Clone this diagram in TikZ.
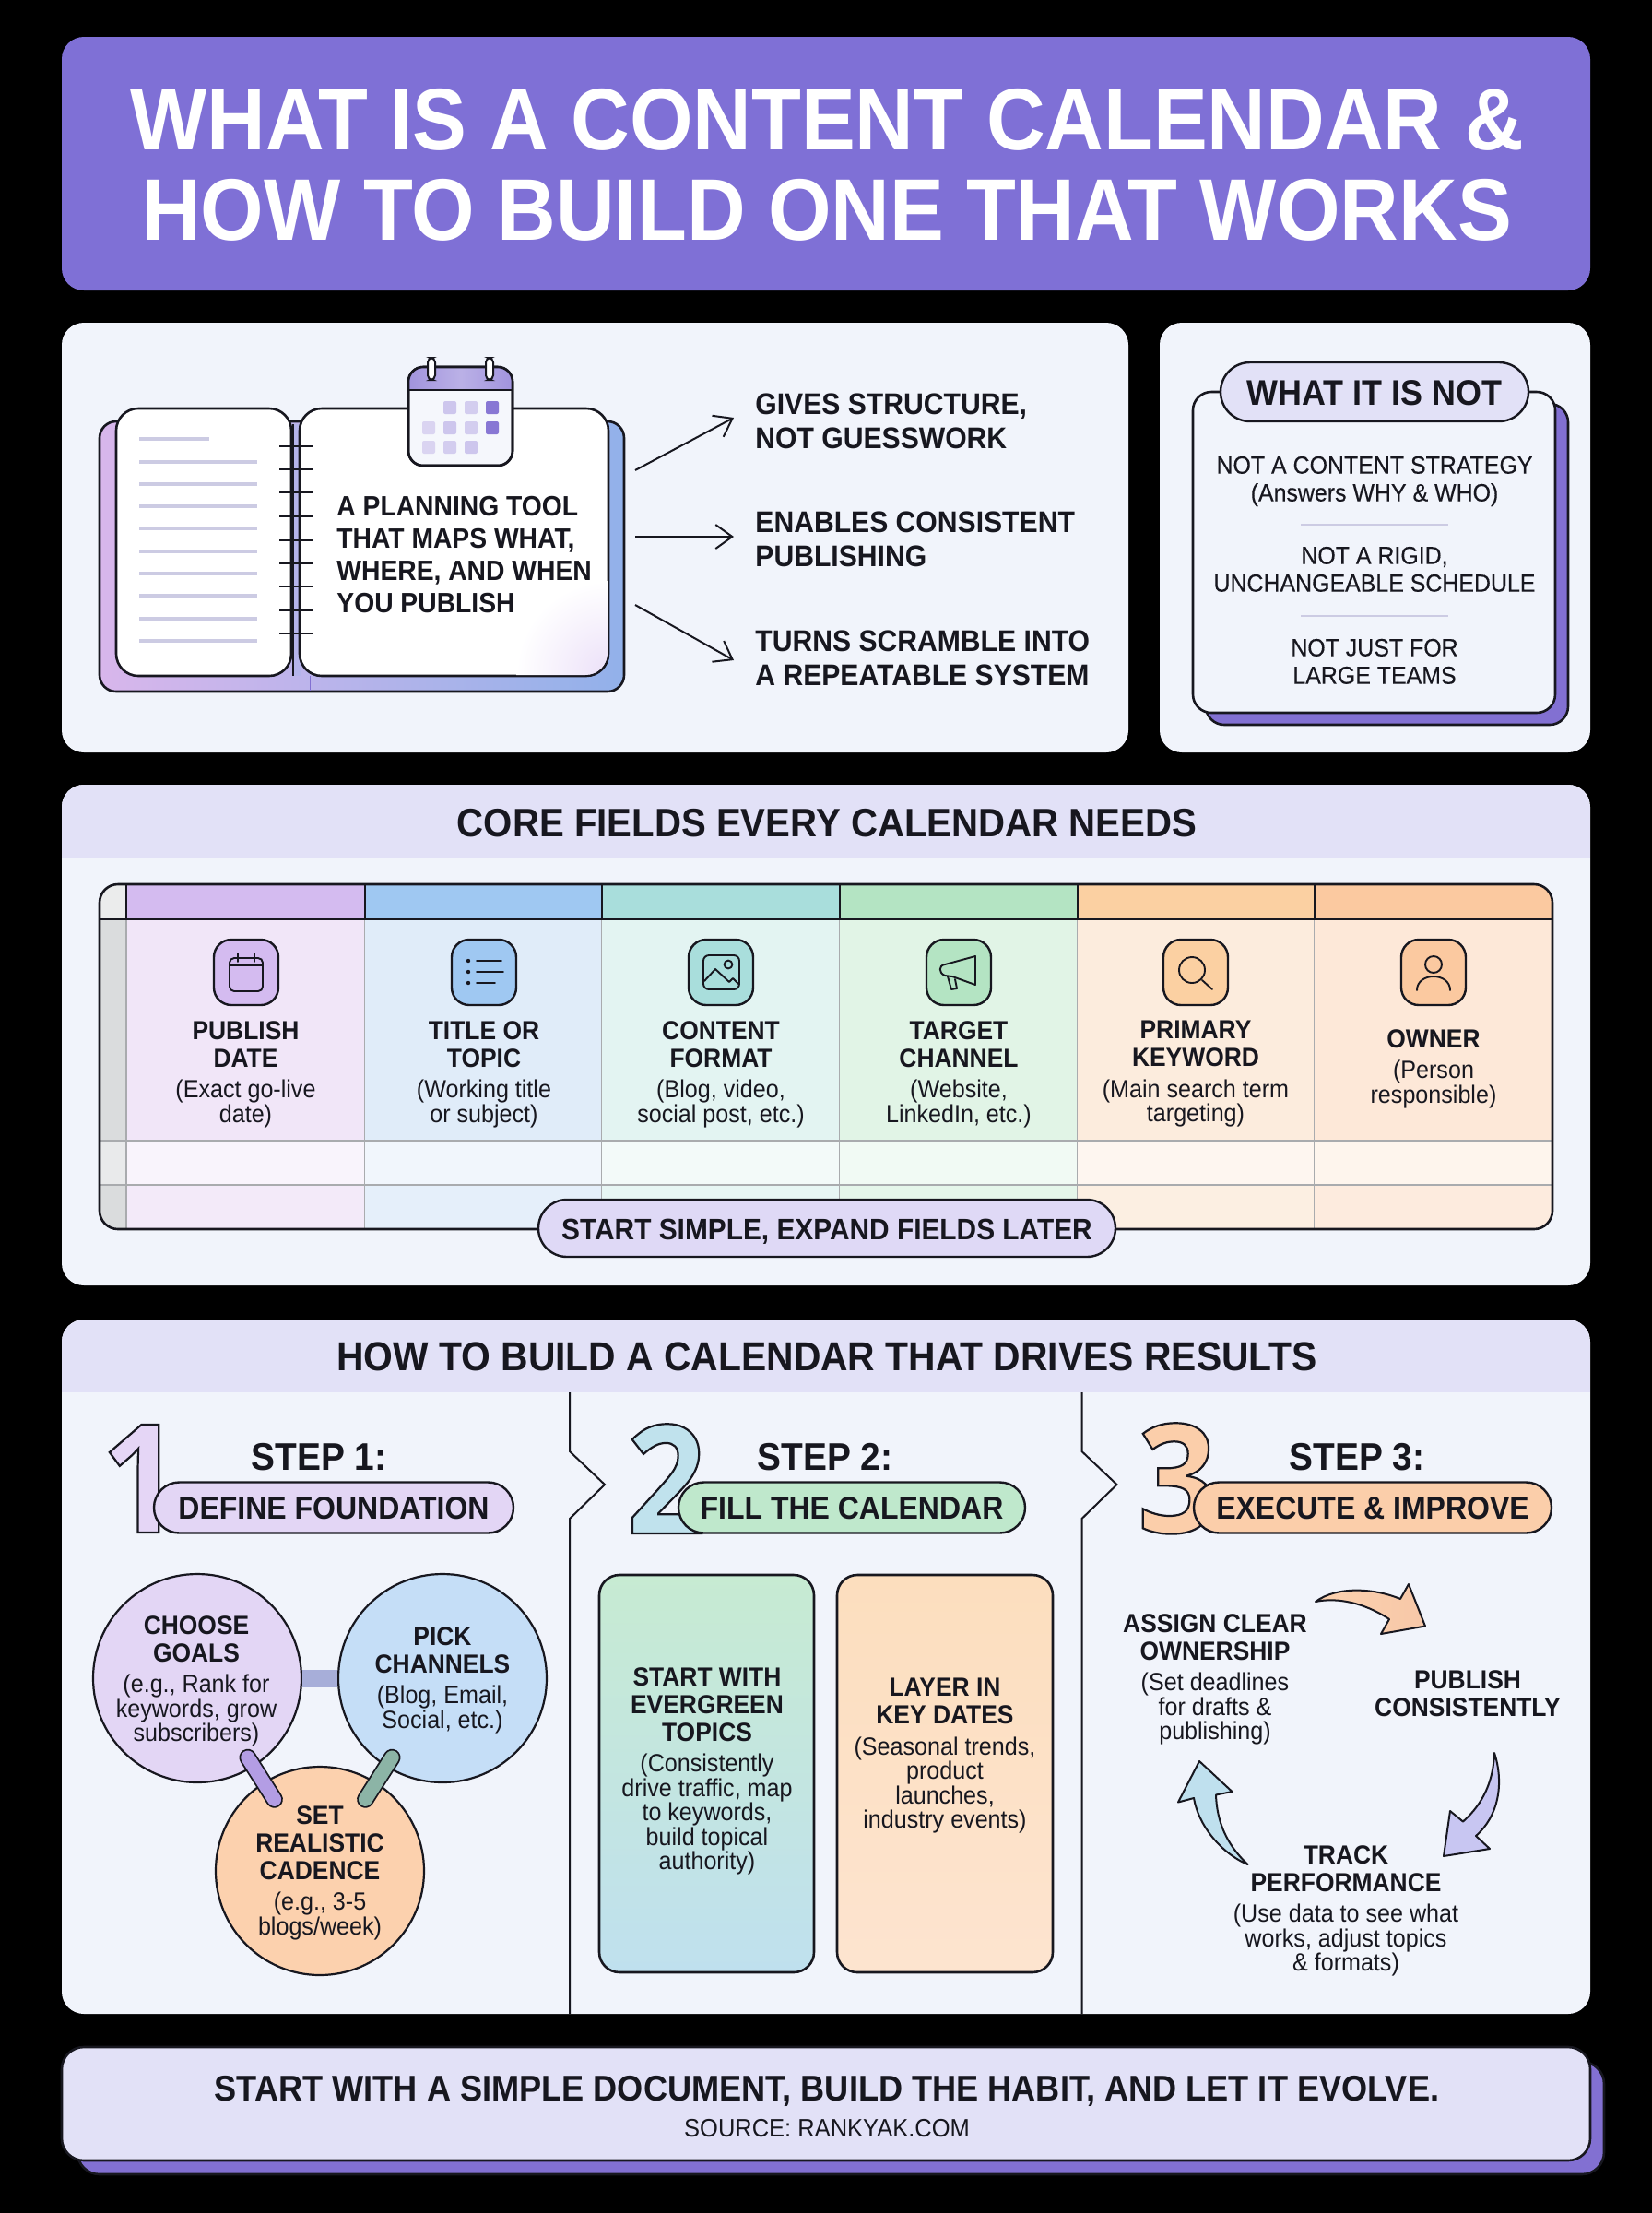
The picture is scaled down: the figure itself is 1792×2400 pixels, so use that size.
\documentclass[tikz,border=0pt]{standalone}
\usepackage{fontspec}
\setmainfont[FakeStretch=0.93]{Liberation Sans}
\newfontfamily\numfont[FakeStretch=0.92]{Open Sans}
\newfontfamily\medfont[FakeStretch=0.93,FakeBold=0.25]{Liberation Sans}
\usetikzlibrary{arrows.meta,shapes.misc,calc}
\definecolor{ink}{HTML}{17171F}
\definecolor{panel}{HTML}{F1F4FB}
\definecolor{strip}{HTML}{E2E1F7}
\definecolor{titlec}{HTML}{7F70D6}
\definecolor{lav}{HTML}{E3D6F5}
\definecolor{deep}{HTML}{8270D2}
\definecolor{hA}{HTML}{D4BBF0}\definecolor{cA}{HTML}{F1E6F8}
\definecolor{hB}{HTML}{9FC8F2}\definecolor{cB}{HTML}{E0ECF9}
\definecolor{hC}{HTML}{A9DEDC}\definecolor{cC}{HTML}{E3F4F2}
\definecolor{hD}{HTML}{B4E4C3}\definecolor{cD}{HTML}{E1F4E6}
\definecolor{hE}{HTML}{FBD0A2}\definecolor{cE}{HTML}{FCECDD}
\definecolor{hF}{HTML}{FBC9A0}\definecolor{cF}{HTML}{FDE8D8}
\definecolor{gut}{HTML}{DADCDD}
\definecolor{grid}{HTML}{A9ABAE}
\definecolor{rulec}{HTML}{CCCBE3}
\newcommand\HD{\fontsize{14.2}{15}\bfseries\selectfont}
\newcommand\SB{\fontsize{13.5}{13.2}\mdseries\selectfont}
\newcommand\hh{\\[1.8pt]\HD}
\newcommand\hs{\\[3.6pt]}
\newcommand\OutlineOn{\special{pdf:code 2 Tr 1.1 w 0.09 0.09 0.12 RG}}
\newcommand\OutlineOff{\special{pdf:code 0 Tr}}
\tikzset{
  x=0.5pt,y=-0.5pt,
  pan/.style={fill=panel,rounded corners=12pt},
  ol/.style={draw=ink,line width=1.3pt},
  blk/.style={inner sep=0pt,align=center,text=ink,anchor=north,font=\SB},
  lft/.style={inner sep=0pt,align=left,text=ink,anchor=north west},
  capz/.style={text height=#1,text depth=0pt,inner sep=0pt,text=ink},
  thead/.style={capz=15.5pt,font=\fontsize{21.6}{24}\bfseries\selectfont},
  pillbox/.style={rounded rectangle,draw=ink,line width=1.2pt,capz=12pt,text=ink,font=\fontsize{17.2}{20}\bfseries\selectfont,minimum height=27.5pt},
  stepn/.style={capz=15pt,font=\fontsize{20.9}{24}\bfseries\selectfont},
  bignum/.style={inner sep=0pt,anchor=base,font=\numfont\bfseries\fontsize{82}{90}\selectfont},
  iconbox/.style={draw=ink,line width=1.2pt,rounded corners=9.5pt},
  gl/.style={draw=ink,line width=0.95pt,line cap=round,line join=round},
  arr/.style={draw=ink,line width=1pt,line join=round},
  joinbar/.style={line cap=round,double=#1,draw=ink,line width=0.9pt,double distance=7.5pt},
  bub/.style={circle,draw=ink,line width=1.1pt,minimum size=113pt,inner sep=0pt,align=center,text=ink},
  lead/.style={draw=ink,line width=1pt,-{Straight Barb[length=9pt,width=13pt,line width=1pt]}},
}
\begin{document}
\begin{tikzpicture}
\useasboundingbox (0,0) rectangle (1792,2400);
\fill[black] (0,0) rectangle (1792,2400);

% ---------- title
\fill[titlec,rounded corners=12pt] (67,40) rectangle (1725,315);
\node[blk,text=white,anchor=north,font=\fontsize{47.4}{49}\bfseries\selectfont] (title) at (897,95.5) {WHAT IS A CONTENT CALENDAR \&\\HOW TO BUILD ONE THAT WORKS};

% ---------- panel A
\fill[pan] (67,350) rectangle (1224,816);
\definecolor{bookL}{HTML}{D8B6EB}\definecolor{bookR}{HTML}{92B1EA}
\draw[ol,left color=bookL,right color=bookR,middle color=bookL!50!bookR,rounded corners=9pt] (108,457) rectangle (677,750);
\fill[bookL!50!bookR] (318,460) rectangle (326,733);
\draw[deep,line width=0.5pt] (336,733) -- (336,749);
\draw[ol,fill=white,rounded corners=12pt] (126,443) rectangle (316,733);
\draw[ol,fill=white,rounded corners=12pt] (325,443) rectangle (660,733);
\begin{scope}
\clip[rounded corners=12pt] (326,444) rectangle (659,732);
\shade[inner color=hA!45!white,outer color=white,shading=radial] (560,630) rectangle (760,830);
\end{scope}
\foreach \yy/\xe in {476/227,501/279,525/279,549/279,573/279,598/279,622/279,646/279,671/279,695/279}
  \draw[rulec,line width=1.7pt] (151,\yy) -- (\xe,\yy);
\draw[ink,line width=0.9pt] (318,460) -- (318,733);
\foreach \yy in {484,509,534,560,586,611,636,662,687}
  \draw[ink,line width=1.1pt] (303,\yy) -- (339,\yy);
% calendar
\draw[ol,fill=panel!70!white,rounded corners=8pt] (443,398) rectangle (556,505);
\begin{scope}
\clip[rounded corners=8pt] (443,398) rectangle (556,505);
\shade[left color=deep!75!white,right color=deep!75!white,middle color=deep!55!white] (443,398) rectangle (556,423);
\end{scope}
\draw[ol,rounded corners=8pt] (443,398) rectangle (556,505);
\draw[ink,line width=1pt] (443,423) -- (556,423);
\foreach \xx in {468,531} \draw[ink,fill=white,line width=1pt,rounded corners=2.5pt] (\xx-4,388) rectangle (\xx+4,412);
\foreach \xx/\yy/\cc in {488/442/deep!40!white,511/442/deep!35!white,534/442/deep!95!white,
  465/464/deep!30!white,488/464/deep!40!white,511/464/deep!35!white,534/464/deep!95!white,
  465/485/deep!30!white,488/485/deep!35!white,511/485/deep!40!white}
  \fill[\cc,rounded corners=1pt] (\xx-7,\yy-7) rectangle (\xx+7,\yy+7);
\node[lft,font=\fontsize{15.2}{17.5}\bfseries\selectfont] (plan) at (365,538) {A PLANNING TOOL\\THAT MAPS WHAT,\\WHERE, AND WHEN\\YOU PUBLISH};
\node[lft,font=\fontsize{16.2}{18.7}\bfseries\selectfont] (gives) at (819,426.5) {GIVES STRUCTURE,\\NOT GUESSWORK};
\node[lft,font=\fontsize{16.2}{18.7}\bfseries\selectfont] (enables) at (819,554.5) {ENABLES CONSISTENT\\PUBLISHING};
\node[lft,font=\fontsize{16.2}{18.7}\bfseries\selectfont] (turns) at (819,683.5) {TURNS SCRAMBLE INTO\\A REPEATABLE SYSTEM};
\coordinate (ga) at (689,510); \coordinate (gb) at (796,453);
\coordinate (ea) at (689,582); \coordinate (eb) at (796,582);
\coordinate (ta) at (689,656); \coordinate (tb) at (796,716);
\draw[lead] (ga) -- (gb);
\draw[lead] (ea) -- (eb);
\draw[lead] (ta) -- (tb);

% ---------- panel B
\fill[pan] (1258,350) rectangle (1725,816);
\draw[ol,fill=deep,rounded corners=10pt] (1308,438) rectangle (1701,786);
\draw[ol,fill=panel,rounded corners=10pt] (1294,425) rectangle (1687,773);
\node[pillbox,fill=strip,minimum width=167pt,minimum height=32pt,capz=14pt,font=\fontsize{19.3}{22}\bfseries\selectfont] (notp) at (1491,425) {WHAT IT IS NOT};
\node[blk,font=\fontsize{13.4}{15}\medfont] (nota) at (1491,494.5) {NOT A CONTENT STRATEGY\\(Answers WHY \& WHO)};
\draw[rulec,line width=0.9pt] (1411,569) -- (1571,569);
\node[blk,font=\fontsize{13.4}{15}\medfont] (notb) at (1491,592.5) {NOT A RIGID,\\UNCHANGEABLE SCHEDULE};
\draw[rulec,line width=0.9pt] (1411,668) -- (1571,668);
\node[blk,font=\fontsize{13.4}{15}\medfont] (notc) at (1491,692.5) {NOT JUST FOR\\LARGE TEAMS};

% ---------- panel C
\fill[pan] (67,851) rectangle (1725,1394);
\begin{scope}
\clip[rounded corners=12pt] (67,851) rectangle (1725,1394);
\fill[strip] (67,851) rectangle (1725,930);
\end{scope}
\node[thead] (coreh) at (897,892) {CORE FIELDS EVERY CALENDAR NEEDS};
\begin{scope}
\clip[rounded corners=10pt] (108,959) rectangle (1684,1333);
\fill[gut!55!white] (108,959) rectangle (137,997);
\fill[gut] (108,997) rectangle (137,1237);
\fill[gut!60!white] (108,1237) rectangle (137,1285);
\fill[gut] (108,1285) rectangle (137,1333);
\foreach \xa/\xb/\hc/\cc in {137/396/hA/cA,396/653/hB/cB,653/911/hC/cC,911/1169/hD/cD,1169/1426/hE/cE,1426/1684/hF/cF}{
  \fill[\hc] (\xa,959) rectangle (\xb,997);
  \fill[\cc] (\xa,997) rectangle (\xb,1237);
  \fill[\cc!45!white] (\xa,1237) rectangle (\xb,1285);
  \fill[\cc!85!white] (\xa,1285) rectangle (\xb,1333);
  \draw[grid,line width=0.6pt] (\xb,997) -- (\xb,1333);
}
\draw[grid,line width=0.6pt] (137,997) -- (137,1333);
\draw[grid,line width=0.7pt] (108,1237) -- (1684,1237);
\draw[grid,line width=0.7pt] (108,1285) -- (1684,1285);
\foreach \xx in {137,396,653,911,1169,1426}
  \draw[ink,line width=0.8pt] (\xx,959) -- (\xx,997);
\draw[ink,line width=1.2pt] (108,997) -- (1684,997);
\end{scope}
\draw[ink,line width=1.3pt,rounded corners=10pt] (108,959) rectangle (1684,1333);
% icons
\foreach \cx/\hc in {267/hA,525/hB,782/hC,1040/hD,1297/hE,1555/hF}
  \draw[iconbox,fill=\hc] (\cx-35,1019) rectangle (\cx+35,1090);
\begin{scope}[shift={(267,1054)}]
  \draw[gl,rounded corners=2.5pt] (-18,-15) rectangle (18,21);
  \draw[gl] (-18,-7) -- (18,-7) (-9,-20) -- (-9,-11) (9,-20) -- (9,-11);
\end{scope}
\begin{scope}[shift={(525,1054)}]
  \foreach \yy/\xe in {-12/19,0/21,12/12}{
    \draw[gl] (-8,\yy) -- (\xe,\yy);
    \fill[ink] (-17,\yy) circle (1.1pt);
  }
\end{scope}
\begin{scope}[shift={(782,1054)}]
  \draw[gl,rounded corners=3pt] (-19,-18) rectangle (20,19);
  \draw[gl] (8,-8) circle (2.2pt);
  \draw[gl] (-18,10) -- (-6,-3) -- (9,11) -- (13,7) -- (19,13);
\end{scope}
\begin{scope}[shift={(1040,1055)}]
  \draw[gl] (18,-18) -- (18,13) -- (-7,4) -- (-15,3) .. controls (-22,0) and (-22,-8) .. (-15,-9) -- cycle;
  \draw[gl] (-12,4) -- (-8,18) -- (-2,17) -- (-4,7);
\end{scope}
\begin{scope}[shift={(1297,1055)}]
  \draw[gl] (-4,-3) circle (7pt);
  \draw[gl] (7,8) -- (18,18);
\end{scope}
\begin{scope}[shift={(1555,1055)}]
  \draw[gl] (0,-9) circle (4.5pt);
  \draw[gl] (-18,19) .. controls (-18,-1) and (18,-1) .. (18,19);
\end{scope}
\node[blk] (fa) at (266.5,1107) {\HD PUBLISH\hh DATE\hs (Exact go-live\\date)};
\node[blk] (fb) at (525,1107) {\HD TITLE OR\hh TOPIC\hs (Working title\\or subject)};
\node[blk] (fc) at (782,1107) {\HD CONTENT\hh FORMAT\hs (Blog, video,\\social post, etc.)};
\node[blk] (fd) at (1040,1107) {\HD TARGET\hh CHANNEL\hs (Website,\\LinkedIn, etc.)};
\node[blk] (fe) at (1297,1107) {\HD PRIMARY\hh KEYWORD\hs (Main search term\\targeting)};
\node[blk] (ff) at (1555,1116) {\HD OWNER\hs (Person\\responsible)};
\node[pillbox,fill=strip!80!hA,minimum width=313pt,minimum height=31pt,font=\fontsize{16.05}{20}\bfseries\selectfont] (simple) at (897,1332) {START SIMPLE, EXPAND FIELDS LATER};

% ---------- panel D
\fill[pan] (67,1431) rectangle (1725,2184);
\begin{scope}
\clip[rounded corners=12pt] (67,1431) rectangle (1725,2184);
\fill[strip] (67,1431) rectangle (1725,1510);
\end{scope}
\node[thead,font=\fontsize{21.95}{24}\bfseries\selectfont] (buildh) at (897,1471) {HOW TO BUILD A CALENDAR THAT DRIVES RESULTS};
\foreach \dx in {618,1173.5}
  \draw[ink,line width=1pt,line join=miter] (\dx,1510) -- (\dx,1574) -- (\dx+38,1610) -- (\dx,1647) -- (\dx,2184);

% step numerals
\node[bignum,text=hA!60!white] (n1) at (153,1662) {\OutlineOn 1\OutlineOff};
\node[bignum,text=hC!60!hB!70!white] (n2) at (723,1663) {\OutlineOn 2\OutlineOff};
\node[bignum,text=hF!90!white] (n3) at (1277,1662) {\OutlineOn 3\OutlineOff};
\node[stepn] (s1) at (346,1579) {STEP 1:};
\node[stepn] (s2) at (895,1579) {STEP 2:};
\node[stepn] (s3) at (1472,1579) {STEP 3:};
\node[pillbox,fill=lav,minimum width=195pt] (p1) at (362,1635) {DEFINE FOUNDATION};
\node[pillbox,fill=hD!85!white,minimum width=188pt] (p2) at (924,1635) {FILL THE CALENDAR};
\node[pillbox,fill=hF!90!white,minimum width=194pt] (p3) at (1489,1635) {EXECUTE \& IMPROVE};

% step 1 bubbles
\node[bub,fill=lav] (goal) at (214,1820) {};
\node[bub,fill=hB!60!white] (chan) at (480,1820) {};
\node[bub,fill=hF!85!white] (cad) at (347,2029) {};
\draw[hB!50!hA!90!black,line width=9.5pt] (goal.east) -- (chan.west);
\draw[joinbar=hA!60!deep,shorten <=51pt,shorten >=46pt] (goal.center) -- (cad.center);
\draw[joinbar=hC!50!hD!80!black,shorten <=51pt,shorten >=46pt] (chan.center) -- (cad.center);
\node[blk] (goalt) at (213,1752) {\HD CHOOSE\hh GOALS\hs (e.g., Rank for\\keywords, grow\\subscribers)};
\node[blk] (chant) at (480,1764) {\HD PICK\hh CHANNELS\hs (Blog, Email,\\Social, etc.)};
\node[blk] (cadt) at (347,1958) {\HD SET\hh REALISTIC\hh CADENCE\hs (e.g., 3-5\\blogs/week)};

% step 2 cards
\draw[ol,top color=hD!75!white,bottom color=hB!50!hC!70!white,rounded corners=11pt] (650,1708) rectangle (883,2139);
\draw[ol,top color=hE!70!white,bottom color=hF!50!white,rounded corners=11pt] (908,1708) rectangle (1142,2139);
\node[blk] (evg) at (767,1808) {\HD START WITH\hh EVERGREEN\hh TOPICS\hs (Consistently\\drive traffic, map\\to keywords,\\build topical\\authority)};
\node[blk] (dates) at (1025,1820) {\HD LAYER IN\hh KEY DATES\hs (Seasonal trends,\\product\\launches,\\industry events)};

% step 3 cycle
\node[blk] (assign) at (1318,1750) {\HD ASSIGN CLEAR\hh OWNERSHIP\hs (Set deadlines\\for drafts \&\\publishing)};
\node[blk] (publ) at (1592,1811) {\HD PUBLISH\hh CONSISTENTLY};
\node[blk] (track) at (1460,2001) {\HD TRACK\hh PERFORMANCE\hs (Use data to see what\\works, adjust topics\\\& formats)};
\draw[arr,left color=hF!85!white,right color=hF!90!hA] (1427,1737) .. controls (1450,1720) and (1490,1722) .. (1519,1734) -- (1528,1718) -- (1546,1763.5) -- (1498,1772) -- (1507,1756) .. controls (1480,1738) and (1450,1732) .. cycle;
\draw[arr,fill=hB!35!hA!90!white] (1621,1901) .. controls (1632,1935) and (1625,1970) .. (1601,1991) -- (1616,2005) -- (1566,2013) -- (1573,1964) -- (1587,1975.5) .. controls (1610,1955) and (1620,1930) .. cycle;
\draw[arr,fill=hC!50!hB!70!white] (1353.5,2022) .. controls (1330,2000) and (1320,1975) .. (1319,1946.5) -- (1336.5,1943) -- (1301,1910) -- (1278,1954.5) -- (1295,1950) .. controls (1300,1980) and (1325,2010) .. cycle;

% ---------- footer
\draw[ol,fill=deep,rounded corners=12pt] (84,2236) rectangle (1740,2358);
\draw[ol,fill=strip,rounded corners=12pt] (67,2220) rectangle (1725,2343);
\node[capz=14.1pt,font=\fontsize{19.44}{24}\bfseries\selectfont] (foot) at (897,2264) {START WITH A SIMPLE DOCUMENT, BUILD THE HABIT, AND LET IT EVOLVE.};
\node[capz=9.8pt,font=\fontsize{13.7}{16}\selectfont] (src) at (897,2308) {SOURCE: RANKYAK.COM};
\end{tikzpicture}
\end{document}
